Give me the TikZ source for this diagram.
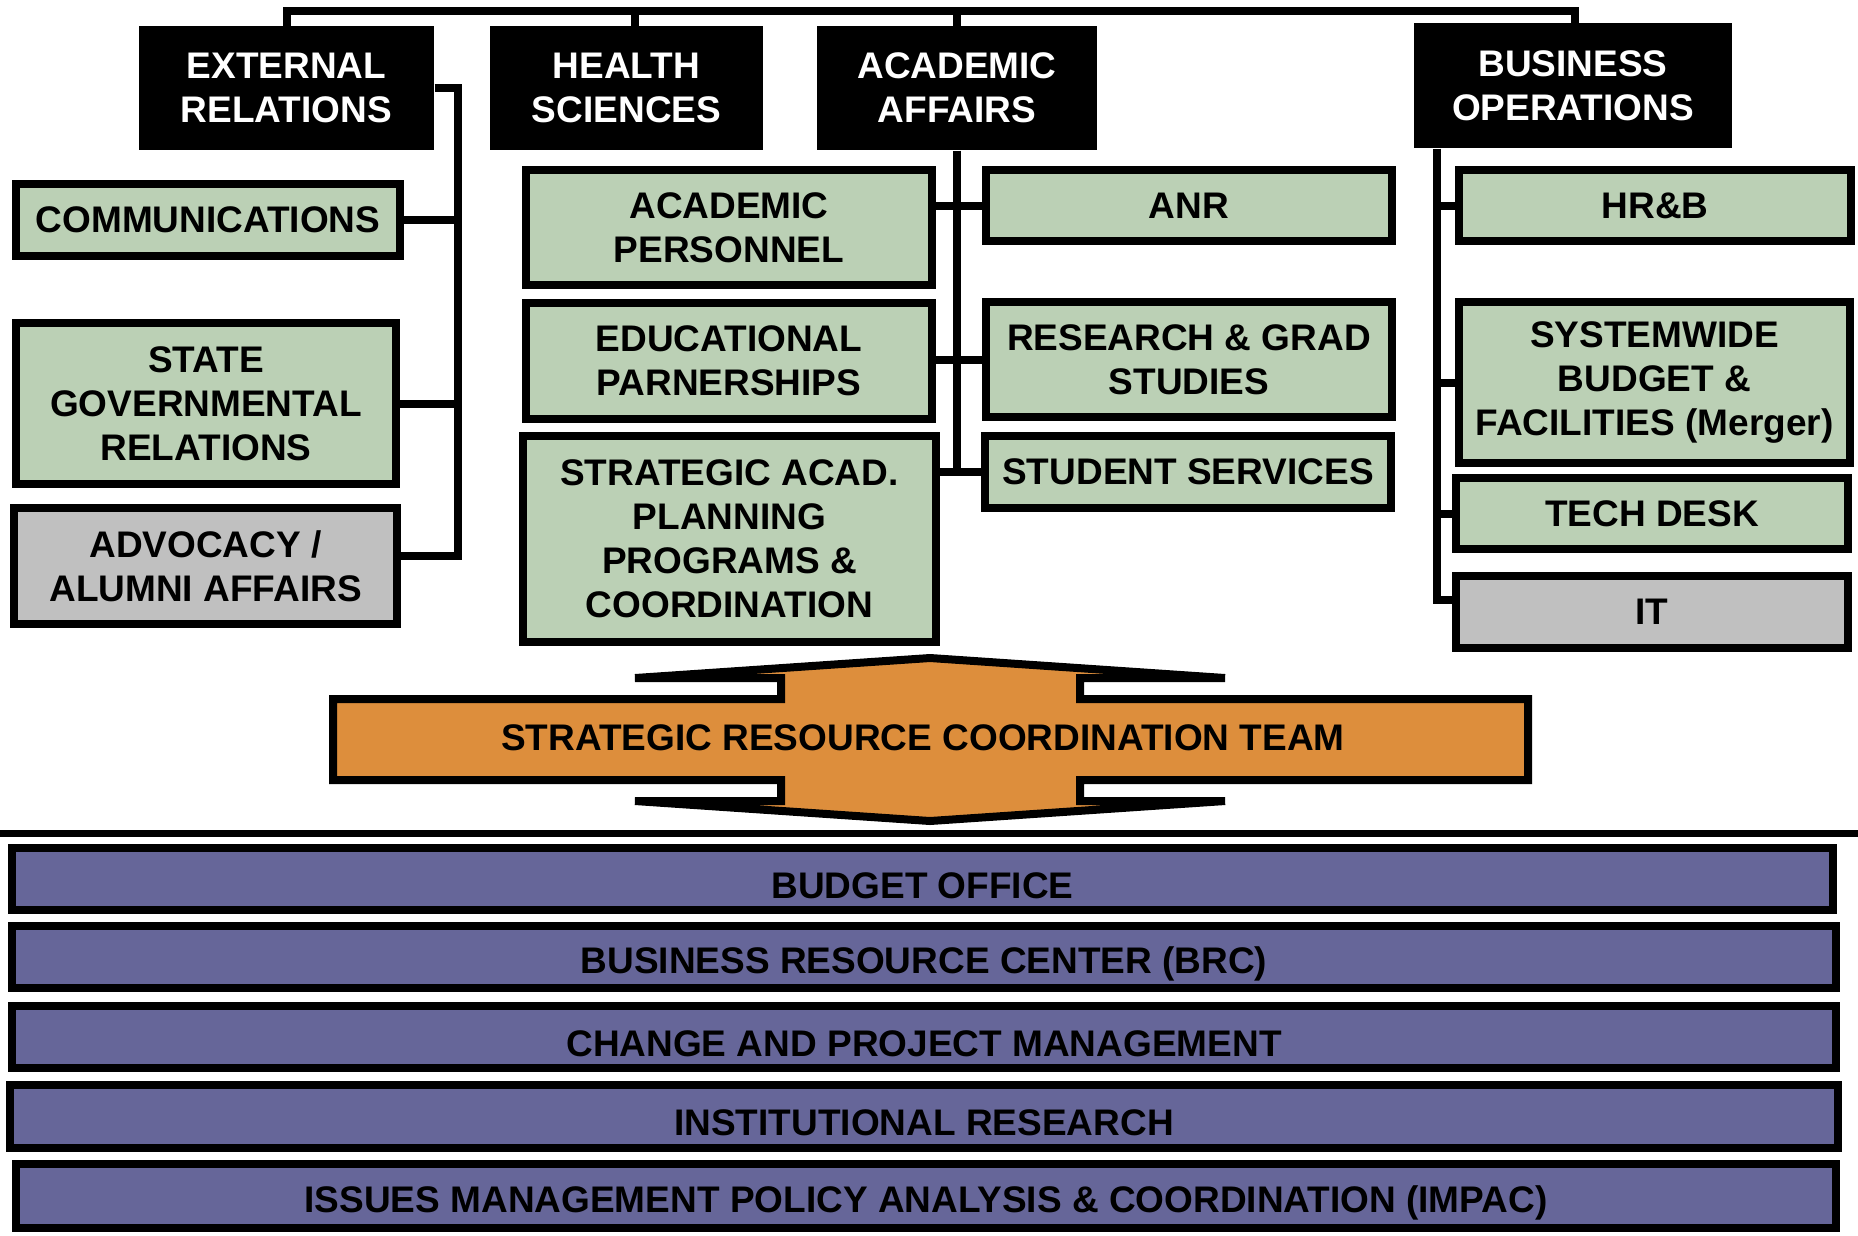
\documentclass[tikz,border=0pt]{standalone}
\usepackage{fontspec}
\setmainfont{Liberation Sans}
\definecolor{boxgreen}{HTML}{BBD0B5}
\definecolor{boxgray}{HTML}{C0C0C0}
\definecolor{boxorange}{HTML}{DD8E3C}
\definecolor{boxpurple}{HTML}{666699}
\newcommand\lowtext[1]{\raisebox{-2.6pt}[\height][\depth]{#1}}
\begin{document}
\begin{tikzpicture}[x=0.4pt, y=-0.4pt,
  every node/.style={font=\bfseries\fontsize{14.8}{17.6}\selectfont, align=center, inner sep=0pt},
  hdr/.style 2 args={fill=black, text=white, minimum width={#1*0.4pt}, minimum height={#2*0.4pt}},
  sz/.style 2 args={draw=black, line width=3.2pt, minimum width={(#1-8)*0.4pt}, minimum height={(#2-8)*0.4pt}},
  gbox/.style={fill=boxgreen},
  graybox/.style={fill=boxgray},
  pbox/.style={fill=boxpurple},
  conn/.style={draw=black, line width=3.2pt, line join=miter}]
\useasboundingbox (0,0) rectangle (1858,1235);

% header boxes
\node[hdr={295}{124}] (ext) at (286.5,88) {EXTERNAL\\RELATIONS};
\node[hdr={273}{124}] (hs) at (626.5,88) {HEALTH\\SCIENCES};
\node[hdr={280}{124}] (aa) at (957,88) {ACADEMIC\\AFFAIRS};
\node[hdr={318}{125}] (bo) at (1573,85.5) {BUSINESS\\OPERATIONS};

% left column
\node[gbox, sz={392}{80}] (comm) at (208,220) {COMMUNICATIONS};
\node[gbox, sz={388}{169}] (sgr) at (206,403.5) {STATE\\GOVERNMENTAL\\RELATIONS};
\node[graybox, sz={391}{124}] (adv) at (205.5,566) {ADVOCACY /\\ALUMNI AFFAIRS};

% middle columns
\node[gbox, sz={414}{123}] (ap) at (729,227.5) {ACADEMIC\\PERSONNEL};
\node[gbox, sz={414}{124}] (edu) at (729,361) {EDUCATIONAL\\PARNERSHIPS};
\node[gbox, sz={421}{214}] (sap) at (729.5,539) {STRATEGIC ACAD.\\PLANNING\\PROGRAMS \&\\COORDINATION};
\node[gbox, sz={414}{79}] (anr) at (1189,205.5) {ANR};
\node[gbox, sz={414}{123}] (rgs) at (1189,359.5) {RESEARCH \& GRAD\\STUDIES};
\node[gbox, sz={414}{80}] (ss) at (1188,472) {STUDENT SERVICES};

% right column
\node[gbox, sz={400}{79}] (hrb) at (1655,205.5) {HR\&B};
\node[gbox, sz={399}{169}] (sbf) at (1654.5,382.5) {SYSTEMWIDE\\BUDGET \&\\FACILITIES (Merger)};
\node[gbox, sz={400}{79}] (td) at (1652,513.5) {TECH DESK};
\node[graybox, sz={400}{80}] (it) at (1652,612) {IT};

% top bus
\coordinate (busR) at (1575,11);
\draw[conn] (ext.north) |- (busR) -- (busR |- bo.north);
\draw[conn] ([xshift=3.4pt]hs.north) -- ([xshift=3.4pt]hs.north |- busR);
\draw[conn] (aa.north) -- (aa.north |- busR);

% external relations spine
\coordinate (extend) at (458,556);
\draw[conn] (ext.east) -| (extend) -- (extend -| adv.east);
\draw[conn] (comm.east) -- (comm.east -| extend);
\draw[conn] (sgr.east) -- (sgr.east -| extend);

% academic affairs spine
\coordinate (aaend) at (957,472);
\draw[conn] (aa.south) -- (aaend);
\draw[conn] (ap.east |- anr.west) -- (anr.west);
\draw[conn] (edu.east |- rgs.west) -- (rgs.west);
\draw[conn] (sap.east |- ss.west) -- (ss.west);

% business operations spine
\coordinate (boend) at (1437,600);
\draw[conn] (bo.south -| boend) -- (boend) -- (boend -| it.west);
\draw[conn] (hrb.west -| boend) -- (hrb.west);
\draw[conn] (sbf.west -| boend) -- (sbf.west);
\draw[conn] (td.west -| boend) -- (td.west);

% strategic resource coordination team with double arrow
\draw[fill=boxorange, line width=3.2pt, line join=miter]
  (930,658) -- (1225,678) -- (1080,678) -- (1080,699) -- (1528,699) -- (1528,780)
  -- (1080,780) -- (1080,801) -- (1225,801) -- (930,821) -- (635,801) -- (781,801)
  -- (781,780) -- (333,780) -- (333,699) -- (781,699) -- (781,678) -- (635,678) -- cycle;
\node (srct) at (923,738) {STRATEGIC RESOURCE COORDINATION TEAM};

% separator
\draw[line width=2.8pt] (0,833.5) -- (1858,833.5);

% bottom bands
\node[pbox, sz={1829}{70}] (bud) at (922.5,879) {\lowtext{BUDGET OFFICE}};
\node[pbox, sz={1832}{70}] (brc) at (924,957) {\lowtext{BUSINESS RESOURCE CENTER (BRC)}};
\node[pbox, sz={1832}{70}] (cpm) at (924,1037) {\lowtext{CHANGE AND PROJECT MANAGEMENT}};
\node[pbox, sz={1836}{71}] (ir) at (924,1116.5) {\lowtext{INSTITUTIONAL RESEARCH}};
\node[pbox, sz={1828}{72}] (impac) at (926,1196) {\lowtext{ISSUES MANAGEMENT POLICY ANALYSIS \& COORDINATION (IMPAC)}};
\end{tikzpicture}
\end{document}
